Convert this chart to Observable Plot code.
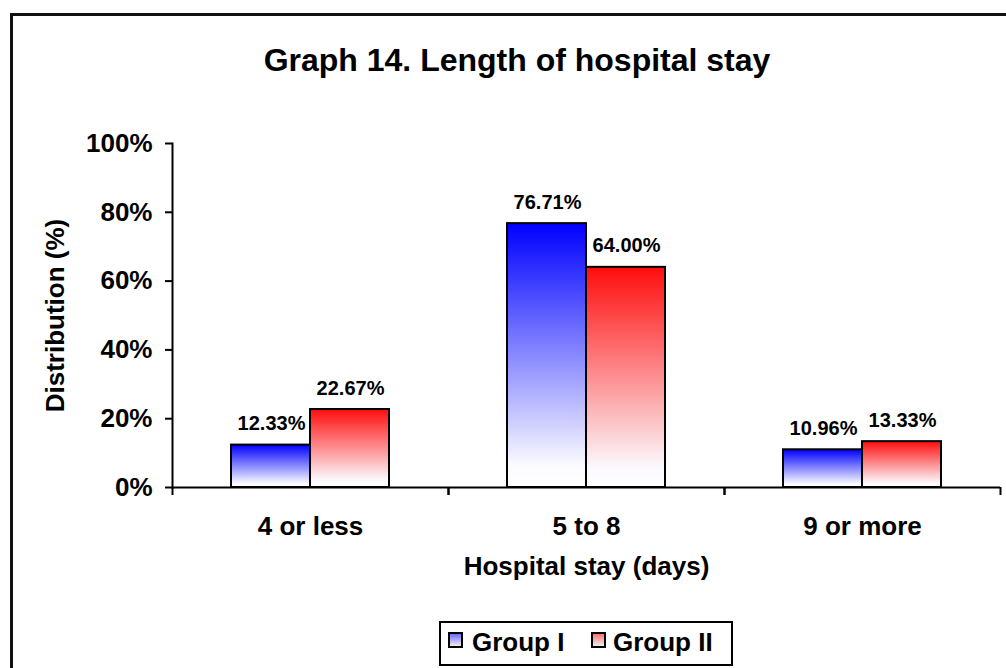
<!DOCTYPE html>
<html>
<head>
<meta charset="utf-8">
<script src="https://cdn.jsdelivr.net/npm/d3@7"></script>
<script src="https://cdn.jsdelivr.net/npm/@observablehq/plot@0.6"></script>
<style>
  html, body { margin: 0; padding: 0; background: #fff; }
  #wrap { position: relative; width: 1006px; height: 668px; overflow: hidden; font-family: "Liberation Sans", Arial, sans-serif; }
  #border { position: absolute; left: 10px; top: 13px; width: 1100px; height: 800px; border: 3px solid #111; box-sizing: border-box; }
  #chart { position: absolute; left: 0; top: 0; }
  #title { position: absolute; left: 0; top: 44px; width: 1034px; text-align: center; font-size: 32px; line-height: 32px; font-weight: bold; color: #000; }
  #legend { position: absolute; left: 439px; top: 621px; width: 294px; height: 45px; border: 2px solid #000; box-sizing: border-box; background: #fff; }
  .sw { position: absolute; top: 632px; width: 15px; height: 16px; border: 2px solid #000; box-sizing: border-box; }
  .lt { position: absolute; top: 629px; font-size: 26px; line-height: 26px; font-weight: bold; color: #000; white-space: nowrap; }
</style>
</head>
<body>
<div id="wrap">
  <div id="border"></div>
  <div id="chart"></div>
  <div id="title">Graph 14. Length of hospital stay</div>
  <div id="legend"></div>
  <div class="sw" style="left:448px;background:linear-gradient(#6a6aff,#f4efe4);"></div>
  <div class="lt" style="left:472px;">Group I</div>
  <div class="sw" style="left:591px;background:linear-gradient(#ff7070,#e6f0f0);"></div>
  <div class="lt" style="left:613px;">Group II</div>
</div>
<script>
const categories = ["4 or less", "5 to 8", "9 or more"];
const groups = ["Group I", "Group II"];
const group1 = [12.33, 76.71, 10.96];
const group2 = [22.67, 64.00, 13.33];
const yTicks = [0, 20, 40, 60, 80, 100];
const xLabel = "Hospital stay (days)";
const yLabel = "Distribution (%)";

const fmt = v => v.toFixed(2) + "%";
const rows = categories.map((c, i) => ({category: c, g1: group1[i], g2: group2[i]}));

function defs() {
  const d = d3.create("svg:defs");
  const mk = (id, top) => {
    const g = d.append("linearGradient").attr("id", id).attr("x1", 0).attr("y1", 0).attr("x2", 0).attr("y2", 1);
    g.append("stop").attr("offset", "0%").attr("stop-color", top);
    g.append("stop").attr("offset", "92%").attr("stop-color", "#fbfbff");
    g.append("stop").attr("offset", "100%").attr("stop-color", "#ffffff");
  };
  mk("gBlue", "#0000ff");
  mk("gRed", "#ff0d0d");
  return d.node();
}

const font = {fontSize: 26, fontWeight: "bold", fill: "black"};

const chart = Plot.plot({
  width: 1006,
  height: 668,
  marginLeft: 172,
  marginRight: 6,
  marginTop: 143,
  marginBottom: 181,
  style: {fontFamily: "'Liberation Sans', Arial, sans-serif", color: "black", background: "transparent"},
  x: {domain: categories, padding: 0, axis: null},
  y: {domain: [0, 100], axis: null},
  marks: [
    defs,
    Plot.barY(rows, {x: "category", y: "g1", insetLeft: 59, insetRight: 138, fill: "url(#gBlue)", stroke: "black", strokeWidth: 2}),
    Plot.barY(rows, {x: "category", y: "g2", insetLeft: 138, insetRight: 59, fill: "url(#gRed)", stroke: "black", strokeWidth: 2}),
    Plot.ruleY([0], {stroke: "black", strokeWidth: 2}),
    Plot.frame({anchor: "left", stroke: "black", strokeWidth: 2}),
    Plot.axisY({ticks: yTicks, tickFormat: d => d + "%", tickSize: 7, tickPadding: 13, label: null, strokeWidth: 2, ...font}),
    Plot.axisX({tickSize: 8, tickFormat: () => "", dx: -138, strokeWidth: 2, label: null}),
    Plot.axisX({tickSize: 8, tickFormat: () => "", dx: 138, strokeWidth: 2, label: null}),
    Plot.axisX({tickSize: 0, tickPadding: 29, label: null, ...font}),
    Plot.text(rows, {x: "category", y: "g1", text: d => fmt(d.g1), dx: -39, dy: -15, lineAnchor: "bottom", fontSize: 20, fontWeight: "bold", fill: "black"}),
    Plot.text(rows, {x: "category", y: "g2", text: d => fmt(d.g2), dx: 40, dy: -15, lineAnchor: "bottom", fontSize: 20, fontWeight: "bold", fill: "black"}),
    Plot.text([xLabel], {text: d => d, frameAnchor: "bottom", dy: 87, ...font}),
    Plot.text([yLabel], {text: d => d, frameAnchor: "left", textAnchor: "middle", dx: -117, rotate: -90, ...font})
  ]
});
document.getElementById("chart").appendChild(chart);
</script>
</body>
</html>
